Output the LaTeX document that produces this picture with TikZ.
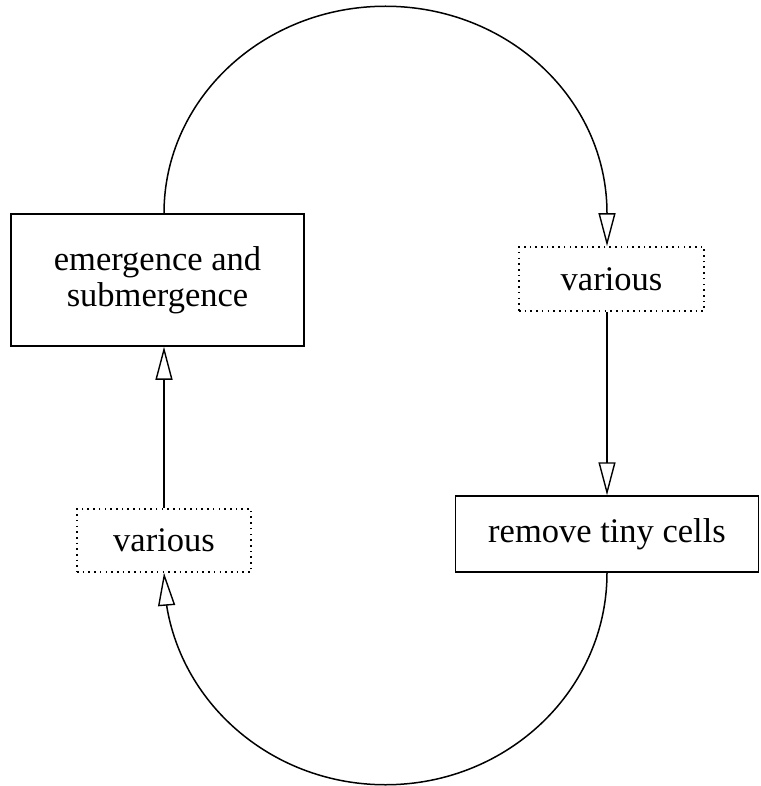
\documentclass[tikz,border=0pt]{standalone}
\usepackage{fontspec}
\setmainfont{Liberation Serif}
\usetikzlibrary{arrows.meta,bending}

\begin{document}
\begin{tikzpicture}[x=1pt,y=-1pt,
  lbl/.style={font=\fontsize{34.5}{36}\selectfont, align=center, inner sep=0pt},
  solidbox/.style={lbl, draw, line width=1.5pt},
  dotbox/.style={lbl, draw, line width=1.7pt, dash pattern=on 1.6pt off 4.1pt},
  conn/.style={line width=1.5pt, -{Triangle[open,length=33pt,width=17pt,line width=1.4pt]}}
]
\useasboundingbox (0,0) rectangle (760,786);

% process steps
\node[solidbox, minimum width=293pt, minimum height=132pt] (em) at (157.5,280) {emergence and\\submergence};
\node[dotbox, minimum width=185pt, minimum height=64pt] (v1) at (611.5,279) {various};
\node[solidbox, minimum width=303pt, minimum height=76pt] (rt) at (607,534) {remove tiny cells};
\node[dotbox, minimum width=174pt, minimum height=63pt] (v2) at (164,540.5) {various};

% upper loop: emergence -> various
\draw[conn] (v2.north |- em.north)
  arc[start angle=180, end angle=360, x radius=221.5, y radius=207]
  -- (rt.north |- v1.north);

% various -> remove tiny cells
\draw[conn] (rt.north |- v1.south) -- (rt.north);

% lower loop: remove tiny cells -> various
\draw[conn] (rt.south)
  arc[start angle=0, end angle=180, x radius=221.5, y radius=212];

% various -> emergence
\draw[conn] (v2.north) -- (v2.north |- em.south);
\end{tikzpicture}
\end{document}
